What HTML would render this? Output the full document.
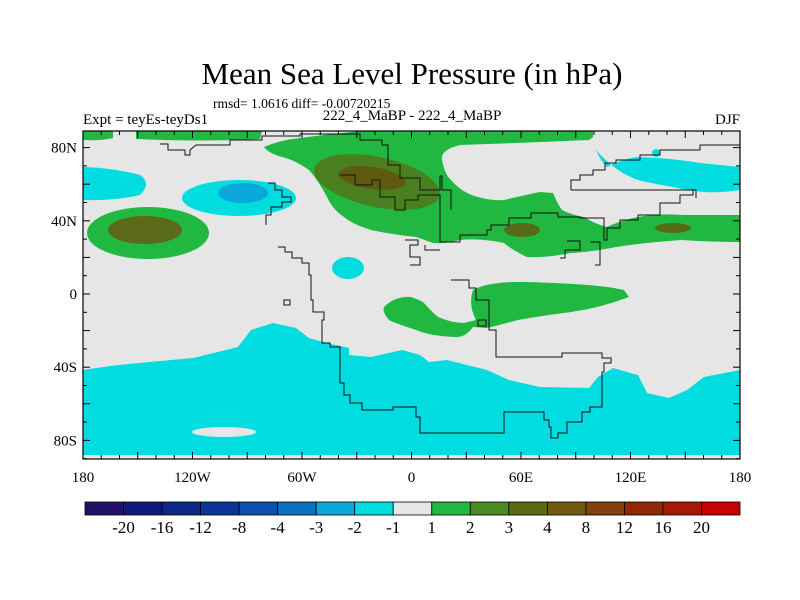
<!DOCTYPE html>
<html><head><meta charset="utf-8"><style>
body{margin:0;background:#fff;}
svg{display:block;font-family:"Liberation Serif",serif;}
</style></head><body>
<svg width="800" height="600" viewBox="0 0 800 600">
<rect width="800" height="600" fill="#fff"/>
<text x="412" y="84" text-anchor="middle" font-size="31">Mean Sea Level Pressure (in hPa)</text>
<text x="213" y="108" font-size="13.5">rmsd= 1.0616 diff= -0.00720215</text>
<text x="83" y="124" font-size="15">Expt = teyEs-teyDs1</text>
<text x="412" y="120" text-anchor="middle" font-size="15">222_4_MaBP - 222_4_MaBP</text>
<text x="740" y="124" text-anchor="end" font-size="15">DJF</text>
<defs><clipPath id="pc"><rect x="83" y="131" width="657" height="328"/></clipPath></defs>
<g clip-path="url(#pc)">
<rect x="83" y="131" width="657" height="328" fill="#e6e6e6"/>
<path fill="#00dce0" d="M82,370 L118,365 L193,358 L238,347 L251,330 L273,323 L296,328 L309,338 L327,343 L349,348 L349,355 L371,357 L402,350 L420,355 L429,362 L447,360 L487,370 L509,380 L540,387 L589,388 L598,377 L613,368 L638,375 L647,393 L669,398 L687,390 L704,377 L740,370 L740,455 L82,455 Z"/>
<ellipse cx="224" cy="432" rx="32" ry="5" fill="#e6e6e6"/>
<path fill="#20b840" d="M473,290 Q490,281 527,282 Q600,284 624,290 L629,297 Q600,308 571,312 Q540,316 518,320 Q495,326 487,328 L473,327 Q465,338 455,337 Q430,336 416,330 Q392,322 389,320 Q382,312 384,307 Q395,296 411,297 Q420,300 424,303 Q432,312 438,317 Q452,323 464,323 L476,320 Q468,305 473,290 Z"/>
<path fill="#20b840" d="M82,131 L113,131 L113,138 Q100,141 82,140 Z"/>
<path fill="#20b840" d="M136,131 L262,131 L260,139 Q200,142 136,139 Z"/>
<path fill="#20b840" d="M264,147 Q280,140 300,138 Q330,134 362,131 L593,131 L593,137 Q589,140 589,140 Q520,143 460,145 Q440,150 442,160 Q445,175 451,180 Q462,193 478,197 Q492,201 504,200 Q525,195 540,192 L553,193 Q558,205 562,210 Q572,215 584,217 Q595,224 607,227 Q622,220 638,217 Q660,213 682,215 Q710,215 740,215 L740,242 Q710,242 682,240 Q650,242 616,247 Q590,252 571,253 Q545,258 527,257 Q512,250 504,243 Q480,238 460,240 Q445,244 433,243 Q425,240 416,237 Q390,234 371,230 Q352,224 344,217 Q333,210 327,197 Q318,180 309,170 Q295,160 282,157 Q268,153 264,147 Z"/>
<ellipse cx="377" cy="182" rx="64" ry="25" transform="rotate(12 377 182)" fill="#4a7f20"/>
<ellipse cx="372" cy="178" rx="34" ry="11" transform="rotate(8 372 178)" fill="#5e5a10"/>
<ellipse cx="522" cy="230" rx="18" ry="7" fill="#556b18"/>
<ellipse cx="673" cy="228" rx="18" ry="5" fill="#556b18"/>
<ellipse cx="148" cy="233" rx="61" ry="26" fill="#20b840"/>
<ellipse cx="145" cy="230" rx="37" ry="14" fill="#5a6a18"/>
<path fill="#00dce0" d="M82,167 Q115,168 140,175 Q152,183 140,195 Q115,201 82,200 Z"/>
<ellipse cx="239" cy="198" rx="57" ry="18" fill="#00dce0"/>
<ellipse cx="243" cy="193" rx="25" ry="10" fill="#0aa8d8"/>
<ellipse cx="348" cy="268" rx="16" ry="11" fill="#00dce0"/>
<path fill="#00dce0" d="M596,150 Q600,160 607,167 Q625,158 638,157 Q670,158 700,163 L740,167 L740,190 Q720,193 704,192 Q685,190 673,187 Q650,183 638,180 Q615,172 596,150 Z"/>
<ellipse cx="656" cy="153" rx="4" ry="4" fill="#00dce0"/>
<g fill="none" stroke="#111" stroke-width="1">
<polyline points="160,144 168,144 168,150 185,150 185,155 190,155 190,150 196,145 230,145 230,140 262,140 262,136 300,136 300,134 360,134 360,140 382,140 382,145 388,145 388,165 400,165 400,178 420,178 420,190 440,190 440,176 442,176 442,190 451,190 451,210"/>
<polyline points="340,175 355,175 355,185 372,185 372,180 380,180 380,197 395,197 395,210 405,210 405,200 418,200 418,195 430,195"/>
<polyline points="430,195 440,195 440,242 460,242 460,235 487,235 487,230 491,230 491,225 509,225 509,218 531,218 531,213 558,213 558,217 580,217 580,218 604,218 604,240 607,240 607,228 620,228 620,220 638,220 638,215 660,215 660,203 680,203 680,195 693,195 693,190"/>
<polyline points="571,190 571,180 580,180 580,175 593,175 593,170 605,170 605,163 616,163 616,160 640,160 640,155 660,155 660,150 700,150 700,145 740,145"/>
<polyline points="571,190 696,190 696,198"/>
<polyline points="567,241 580,241 580,250 565,250 565,258 560,258"/>
<polyline points="590,242 600,242 600,265 595,265"/>
<polyline points="268,183 275,183 275,190 282,190 282,197 291,197 291,202 282,202 282,207 271,207 271,215 266,215 266,225"/>
<polyline points="278,247 285,247 285,252 292,252 292,258 302,258 302,263 309,263 309,275 311,275 311,300 313,300 313,312 324,312 324,320 322,320 322,343 330,343 330,347 340,347 340,383 344,383 344,395 350,395 350,403 362,403 362,410 393,410 393,407 416,407 416,417 420,417 420,433 504,433 504,412 544,412 544,420 549,420 549,427 551,427 551,438 558,438 558,433 567,433 567,422 582,422 582,412 590,412 590,407 602,407 602,372 604,372 604,363 611,363 611,358 602,358 602,353 562,353 562,357 496,357 496,330 489,330 489,300 476,300 476,288 469,288 469,280 451,280"/>
<polyline points="405,240 418,240 418,245 410,245 410,257 420,257 420,265 410,265"/>
<polyline points="425,245 425,250 440,250"/>
<rect x="284" y="300" width="6" height="5"/>
<rect x="478" y="320" width="8" height="6"/>
</g>
</g>
<g id="ticks" stroke="#000" stroke-width="1"></g>
<rect x="83" y="131" width="657" height="328" fill="none" stroke="#000" stroke-width="1.2"/>
<g id="labels" font-size="15"></g>
<g id="cbar"></g>
</svg>
<script>
const lonLabels=["180","120W","60W","0","60E","120E","180"];
const lonVals=[-180,-120,-60,0,60,120,180];
const latLabels=["80N","40N","0","40S","80S"];
const latVals=[80,40,0,-40,-80];
const cbarColors=["#201068","#101a78","#0e2888","#0a3498","#0a50b0","#0a70c0","#0aa8d8","#00dce0","#e6e6e6","#20b840","#4a8a20","#5a6a10","#705a10","#804010","#902808","#a81808","#c80000"];
const cbarLevels=["-20","-16","-12","-8","-4","-3","-2","-1","1","2","3","4","8","12","16","20"];
const NS="http://www.w3.org/2000/svg";
const X0=83,X1=740,Y0=131,Y1=459;
const xs=lon=>X0+(lon+180)*(X1-X0)/360;
const ys=lat=>294-lat*1.83;
const tk=document.getElementById('ticks'),lb=document.getElementById('labels'),cb=document.getElementById('cbar');
function ln(x1,y1,x2,y2){const l=document.createElementNS(NS,'line');l.setAttribute('x1',x1);l.setAttribute('y1',y1);l.setAttribute('x2',x2);l.setAttribute('y2',y2);


tk.appendChild(l);}
for(let lon=-180;lon<=180;lon+=10){const x=xs(lon),L=lon%30===0?7:4;ln(x,Y1,x,Y1-L);ln(x,Y0,x,Y0+L);}
for(let lat=-90;lat<=90;lat+=10){const y=ys(lat);if(y<Y0||y>Y1)continue;const L=lat%20===0?7:4;ln(X0,y,X0+L,y);ln(X1,y,X1-L,y);}
lonLabels.forEach((s,i)=>{const t=document.createElementNS(NS,'text');t.setAttribute('x',xs(lonVals[i]));t.setAttribute('y',482);t.setAttribute('text-anchor','middle');t.textContent=s;


lb.appendChild(t);});
latLabels.forEach((s,i)=>{const t=document.createElementNS(NS,'text');t.setAttribute('x',77);t.setAttribute('y',ys(latVals[i])+5);t.setAttribute('text-anchor','end');t.textContent=s;


lb.appendChild(t);});
const CX0=85,CX1=740,CY=502,CH=13,w=(CX1-CX0)/cbarColors.length;
cbarColors.forEach((c,i)=>{const r=document.createElementNS(NS,'rect');r.setAttribute('x',CX0+i*w);r.setAttribute('y',CY);r.setAttribute('width',w);r.setAttribute('height',CH);r.setAttribute('fill',c);r.setAttribute('stroke','#000');r.setAttribute('stroke-width','0.8');


cb.appendChild(r);});
cbarLevels.forEach((s,i)=>{const t=document.createElementNS(NS,'text');t.setAttribute('x',CX0+(i+1)*w);t.setAttribute('y',533);t.setAttribute('text-anchor','middle');t.setAttribute('font-size','17');t.textContent=s;


cb.appendChild(t);});
</script>
</body></html>
